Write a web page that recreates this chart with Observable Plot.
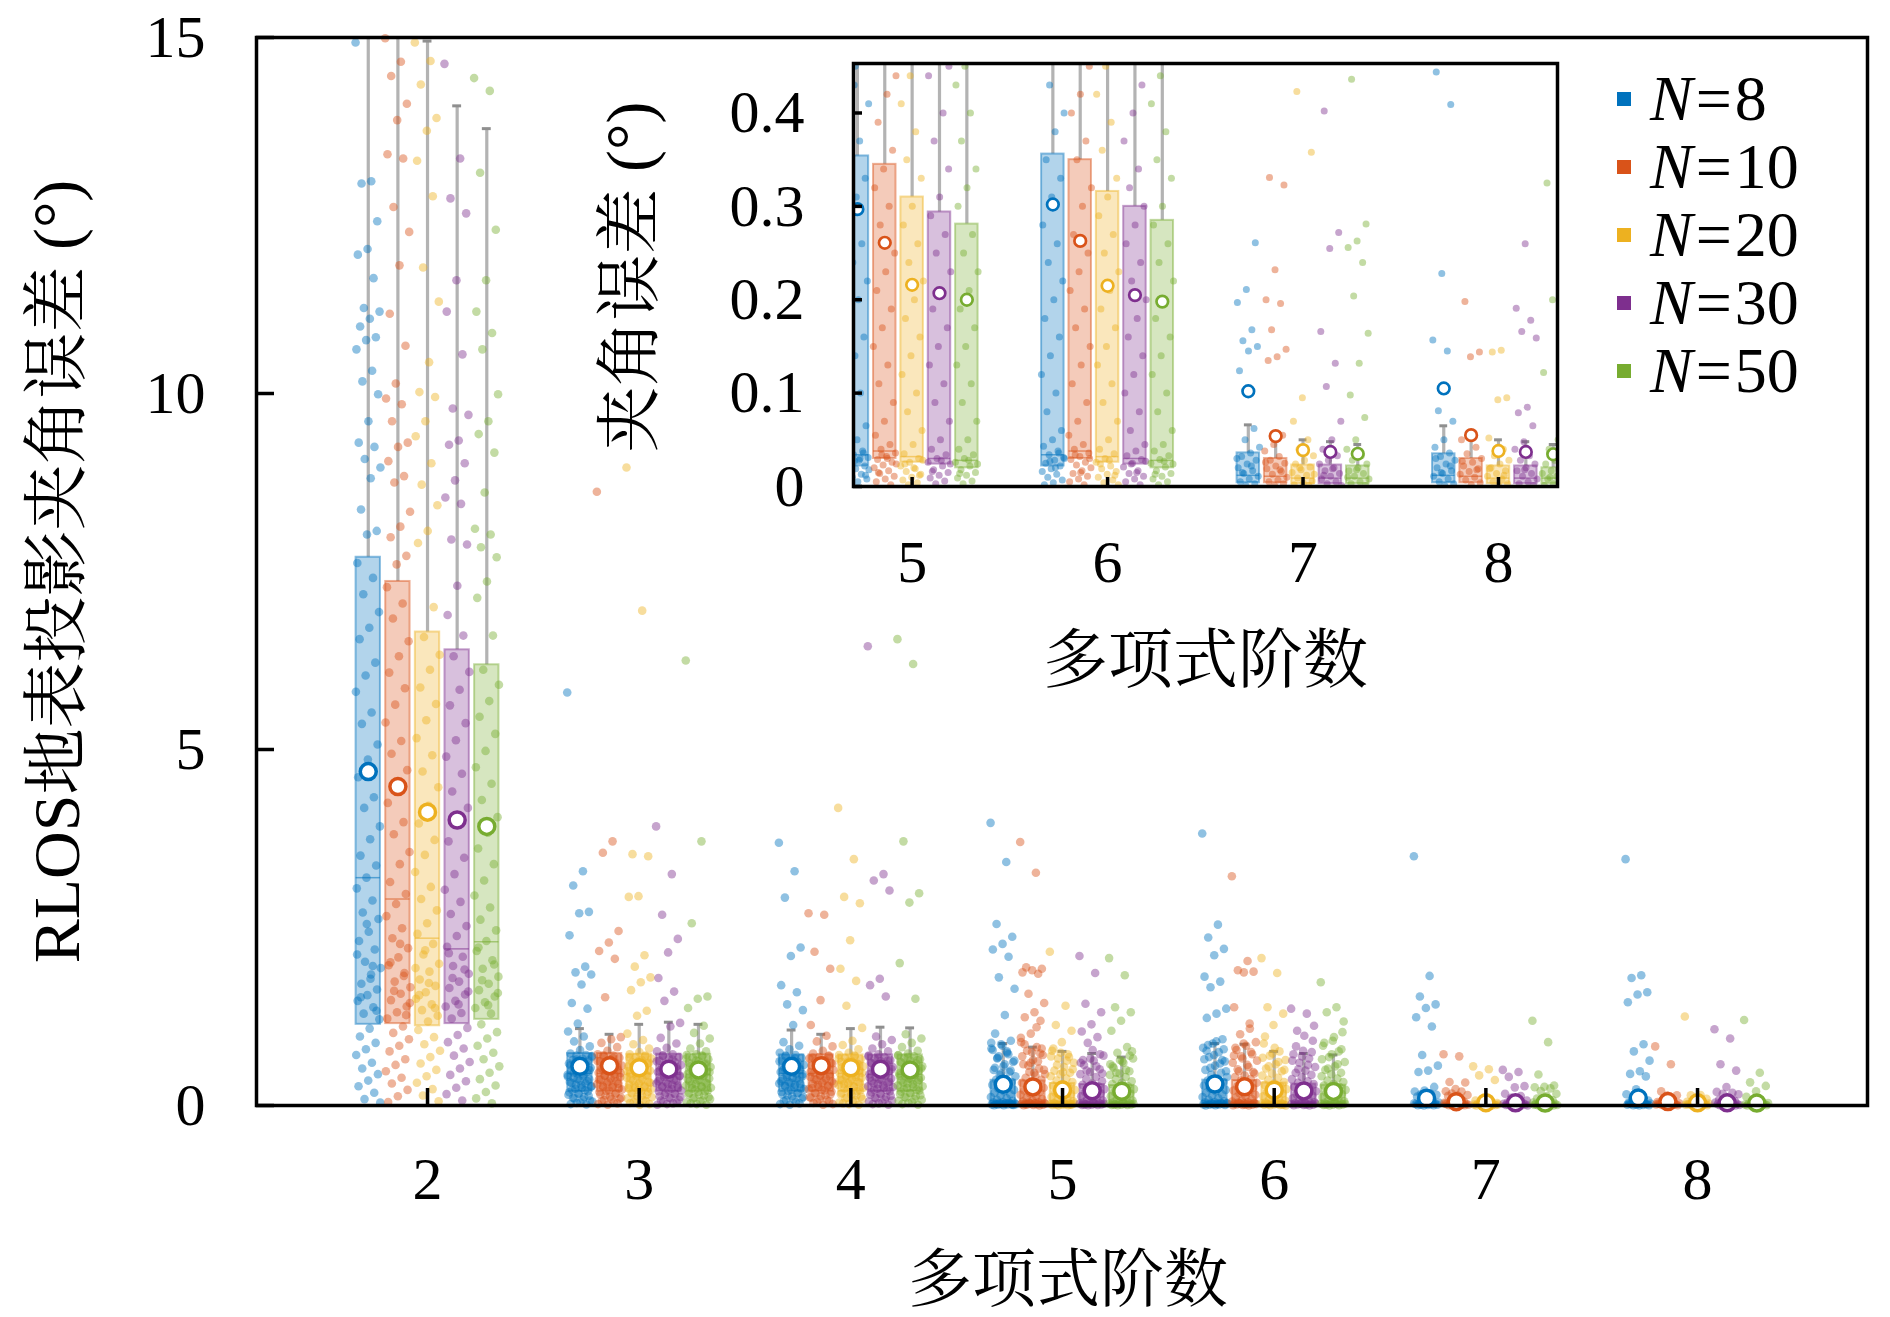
<!DOCTYPE html>
<html><head><meta charset="utf-8">
<script src="https://cdn.jsdelivr.net/npm/d3@7"></script>
<script src="https://cdn.jsdelivr.net/npm/@observablehq/plot@0.6"></script>
<style>
html,body{margin:0;padding:0;background:#fff;overflow:hidden;}
#wrap{position:relative;width:1890px;height:1317px;overflow:hidden;background:#fff;}
#wrap svg{position:absolute;left:0;top:0;}
.legend{position:absolute;left:1617px;top:65px;font-family:"Liberation Serif",serif;font-size:64px;color:#000;}
.legend .row{display:flex;align-items:center;height:68px;}
.legend .sw{width:14px;height:14px;margin-right:19px;flex:none;}
.legend i{font-style:italic;}
.legend .eq{margin:0 3px;}
</style></head>
<body><div id="wrap"></div>
<script>
const FONT = '"Liberation Serif", "Noto Serif CJK SC", "Noto Sans CJK SC", serif';
const nLabels = ["8", "10", "20", "30", "50"];
const colors = ["#0072BD", "#D95319", "#EDB120", "#7E2F8E", "#77AC30"];
const orders = [2, 3, 4, 5, 6, 7, 8];
const insetOrders = [5, 6, 7, 8];
const mainYTicks = [0, 5, 10, 15];
const insetYTicks = [0, 0.1, 0.2, 0.3, 0.4];
const offsets = [-0.28, -0.14, 0, 0.14, 0.28];
const boxWidth = 0.115;

// box statistics: rows = N (8,10,20,30,50), columns = order (2..8)
const q1 = [
  [1.14, 0.2, 0.2, 0.022, 0.022, 0.004, 0.004],
  [1.15, 0.2, 0.2, 0.03, 0.03, 0.004, 0.004],
  [1.12, 0.2, 0.2, 0.026, 0.026, 0.003, 0.003],
  [1.15, 0.2, 0.2, 0.024, 0.024, 0.003, 0.003],
  [1.21, 0.2, 0.2, 0.02, 0.02, 0.003, 0.003]
];
const median = [
  [3.2, 0.45, 0.45, 0.034, 0.034, 0.012, 0.012],
  [2.9, 0.45, 0.45, 0.038, 0.038, 0.011, 0.011],
  [2.35, 0.45, 0.45, 0.032, 0.032, 0.009, 0.009],
  [2.2, 0.44, 0.44, 0.03, 0.03, 0.009, 0.009],
  [2.3, 0.44, 0.44, 0.028, 0.028, 0.009, 0.009]
];
const q3 = [
  [7.7, 0.73, 0.71, 0.354, 0.356, 0.036, 0.035],
  [7.36, 0.73, 0.71, 0.345, 0.35, 0.03, 0.03],
  [6.65, 0.72, 0.71, 0.31, 0.316, 0.023, 0.022],
  [6.4, 0.72, 0.71, 0.294, 0.3, 0.023, 0.022],
  [6.19, 0.72, 0.71, 0.281, 0.285, 0.022, 0.02]
];
const whiskerHigh = [
  [16.5, 1.08, 1.06, 0.87, 0.87, 0.066, 0.065],
  [16.5, 1.0, 1.0, 0.82, 0.86, 0.058, 0.058],
  [14.95, 1.14, 1.08, 0.76, 0.76, 0.05, 0.05],
  [14.04, 1.17, 1.1, 0.73, 0.73, 0.048, 0.048],
  [13.72, 1.14, 1.09, 0.68, 0.71, 0.045, 0.045]
];
const means = [
  [4.69, 0.55, 0.55, 0.297, 0.302, 0.102, 0.105],
  [4.48, 0.56, 0.56, 0.261, 0.263, 0.054, 0.055],
  [4.12, 0.53, 0.53, 0.216, 0.215, 0.039, 0.038],
  [4.01, 0.51, 0.51, 0.207, 0.205, 0.037, 0.037],
  [3.92, 0.50, 0.50, 0.20, 0.198, 0.035, 0.0345]
];

// individual error samples (jittered points), per order, per N
const pts2 = [
  [14.93, 12.98, 12.95, 12.42, 12.03, 11.95, 11.62, 11.2, 11.15, 11.05, 10.94, 10.79, 10.75, 10.62, 10.32, 10.17, 9.99, 9.61, 9.31, 9.25, 9.08, 8.96, 8.81, 8.37, 8.07, 8.02,
   7.62, 7.41, 7.18, 6.93, 6.71, 6.55, 6.22, 6.04, 5.81, 5.52, 5.36, 5.07, 4.86, 4.61, 4.33, 4.18, 3.92, 3.74, 3.51, 3.37, 3.2, 3.05, 2.88, 2.71, 2.62, 2.44, 2.31, 2.19, 2.02, 1.93, 1.84, 1.71, 1.63, 1.55, 1.47, 1.38, 1.29, 1.21,
   1.08, 0.97, 0.88, 0.79, 0.71, 0.6, 0.52, 0.44, 0.35, 0.27, 0.18, 0.09, 0.04, 1.78, 1.52, 1.33, 2.55, 2.12, 1.96],
  [14.99, 14.66, 14.46, 14.07, 13.84, 13.36, 13.3, 12.62, 12.27, 11.8, 11.12, 10.67, 10.14, 9.93, 9.85, 9.61, 9.31, 9.25, 9.05, 8.84, 8.75, 8.34, 8.13, 7.98, 7.72, 7.6,
   7.28, 7.05, 6.84, 6.52, 6.31, 6.08, 5.86, 5.63, 5.38, 5.12, 4.94, 4.71, 4.43, 4.25, 3.98, 3.81, 3.56, 3.39, 3.14, 2.97, 2.83, 2.66, 2.49, 2.35, 2.21, 2.08, 1.97, 1.86, 1.74, 1.66, 1.57, 1.48, 1.39, 1.31, 1.22,
   1.11, 1.02, 0.93, 0.84, 0.76, 0.65, 0.57, 0.48, 0.39, 0.31, 0.22, 0.13, 0.05, 1.82, 1.61, 1.44, 2.27, 2.01, 1.27],
  [14.93, 14.67, 14.34, 13.87, 13.69, 13.27, 12.77, 11.77, 11.29, 10.44, 10.02, 9.95, 9.61, 9.4, 9.02, 8.72, 8.43, 8.07, 7.9, 7.0,
   6.58, 6.33, 6.12, 5.87, 5.64, 5.41, 5.16, 4.92, 4.69, 4.47, 4.21, 3.96, 3.73, 3.52, 3.28, 3.07, 2.9, 2.74, 2.56, 2.41, 2.27, 2.12, 1.99, 1.88, 1.77, 1.68, 1.59, 1.5, 1.42, 1.34, 1.26, 1.18,
   1.06, 0.96, 0.86, 0.77, 0.68, 0.59, 0.5, 0.41, 0.32, 0.23, 0.14, 0.06, 1.72, 1.55, 1.37, 2.18, 1.93],
  [14.63, 13.3, 12.74, 12.53, 11.59, 11.15, 10.55, 9.79, 9.7, 9.34, 9.28, 9.02, 8.78, 8.54, 8.45, 7.95, 7.88, 7.3, 6.89, 6.6,
   6.31, 6.09, 5.84, 5.62, 5.37, 5.13, 4.9, 4.66, 4.41, 4.18, 3.94, 3.71, 3.48, 3.25, 3.03, 2.86, 2.69, 2.52, 2.38, 2.23, 2.09, 1.96, 1.85, 1.74, 1.65, 1.56, 1.47, 1.39, 1.3, 1.22,
   1.09, 0.99, 0.89, 0.8, 0.7, 0.61, 0.52, 0.43, 0.34, 0.25, 0.16, 0.07, 1.79, 1.6, 1.42, 2.14, 1.91],
  [14.43, 14.25, 13.1, 12.3, 11.59, 11.15, 10.85, 10.62, 9.99, 9.61, 9.43, 9.17, 8.61, 8.1, 8.02, 7.84, 7.7, 7.36, 7.13, 6.6,
   6.12, 5.91, 5.68, 5.46, 5.22, 4.98, 4.75, 4.52, 4.29, 4.05, 3.83, 3.61, 3.39, 3.16, 2.95, 2.78, 2.61, 2.46, 2.31, 2.17, 2.04, 1.92, 1.81, 1.71, 1.62, 1.53, 1.45, 1.37, 1.29,
   1.14, 1.03, 0.94, 0.84, 0.74, 0.65, 0.55, 0.46, 0.37, 0.28, 0.19, 0.1, 0.03, 1.76, 1.58, 1.41, 2.22, 1.98]
];
const pts3 = [
  [5.8, 3.29, 3.09, 2.72, 2.7, 2.39, 1.95, 1.87, 1.84, 1.7, 1.44, 1.36, 1.15, 1.04, 0.97, 0.9, 0.83, 0.78, 0.73, 0.71, 0.7, 0.68, 0.66, 0.64, 0.63, 0.61, 0.59, 0.57, 0.55, 0.53, 0.51, 0.49, 0.47, 0.45, 0.43, 0.41, 0.39, 0.37, 0.35, 0.33, 0.31, 0.29, 0.27, 0.25, 0.22, 0.2, 0.17, 0.15, 0.12, 0.1, 0.07, 0.04, 0.02,
   0.015, 0.035, 0.055, 0.085, 0.105, 0.135, 0.165, 0.185, 0.215, 0.235, 0.265, 0.285, 0.315, 0.345, 0.375, 0.405, 0.435, 0.465, 0.495, 0.525, 0.565, 0.605, 0.645, 0.695],
  [8.62, 3.71, 3.55, 2.45, 2.29, 2.17, 2.06, 1.52, 0.96, 0.93, 0.88, 0.82, 0.77, 0.72, 0.7, 0.69, 0.67, 0.65, 0.62, 0.6, 0.58, 0.56, 0.54, 0.52, 0.5, 0.48, 0.46, 0.44, 0.42, 0.4, 0.38, 0.36, 0.34, 0.32, 0.3, 0.28, 0.26, 0.24, 0.21, 0.19, 0.16, 0.14, 0.11, 0.09, 0.06, 0.03, 0.01,
   0.02, 0.045, 0.075, 0.095, 0.125, 0.155, 0.175, 0.205, 0.225, 0.255, 0.275, 0.305, 0.335, 0.365, 0.395, 0.425, 0.455, 0.485, 0.515, 0.545, 0.585, 0.625, 0.665, 0.705],
  [8.96, 6.95, 3.53, 3.5, 2.94, 2.93, 2.11, 1.95, 1.8, 1.73, 1.62, 1.33, 1.26, 1.01, 0.92, 0.86, 0.8, 0.75, 0.72, 0.7, 0.68, 0.66, 0.64, 0.61, 0.59, 0.57, 0.55, 0.53, 0.51, 0.49, 0.47, 0.45, 0.43, 0.41, 0.39, 0.37, 0.35, 0.33, 0.31, 0.29, 0.27, 0.25, 0.23, 0.2, 0.18, 0.15, 0.13, 0.1, 0.08, 0.05, 0.02,
   0.01, 0.035, 0.065, 0.09, 0.115, 0.14, 0.165, 0.19, 0.215, 0.24, 0.26, 0.28, 0.32, 0.34, 0.38, 0.42, 0.44, 0.48, 0.52, 0.56, 0.6, 0.63, 0.67, 0.69],
  [3.92, 3.25, 2.68, 2.34, 2.15, 1.79, 1.6, 1.47, 1.16, 1.11, 0.95, 0.87, 0.81, 0.76, 0.72, 0.7, 0.68, 0.66, 0.63, 0.61, 0.59, 0.57, 0.55, 0.53, 0.51, 0.49, 0.47, 0.45, 0.43, 0.41, 0.39, 0.37, 0.35, 0.33, 0.31, 0.29, 0.27, 0.25, 0.22, 0.2, 0.17, 0.15, 0.12, 0.1, 0.07, 0.04, 0.02,
   0.01, 0.03, 0.055, 0.08, 0.11, 0.13, 0.16, 0.18, 0.21, 0.235, 0.26, 0.28, 0.3, 0.34, 0.36, 0.4, 0.42, 0.46, 0.5, 0.54, 0.58, 0.62, 0.65, 0.7],
  [6.25, 3.71, 2.56, 1.53, 1.5, 1.37, 1.12, 1.02, 0.94, 0.87, 0.8, 0.76, 0.72, 0.71, 0.69, 0.67, 0.65, 0.62, 0.6, 0.58, 0.56, 0.54, 0.52, 0.5, 0.48, 0.46, 0.44, 0.42, 0.4, 0.38, 0.36, 0.34, 0.32, 0.3, 0.28, 0.26, 0.24, 0.21, 0.19, 0.16, 0.14, 0.11, 0.09, 0.06, 0.03, 0.01,
   0.02, 0.045, 0.07, 0.1, 0.12, 0.15, 0.175, 0.2, 0.225, 0.25, 0.27, 0.29, 0.31, 0.35, 0.37, 0.41, 0.43, 0.47, 0.51, 0.55, 0.59, 0.63, 0.66, 0.7]
];
const pts4 = [
  [3.69, 3.29, 2.92, 2.22, 2.1, 1.69, 1.59, 1.42, 1.34, 1.13, 0.89, 0.84, 0.79, 0.74, 0.71, 0.69, 0.67, 0.65, 0.63, 0.61, 0.59, 0.57, 0.55, 0.53, 0.51, 0.49, 0.47, 0.45, 0.43, 0.41, 0.39, 0.37, 0.35, 0.33, 0.31, 0.29, 0.27, 0.24, 0.22, 0.19, 0.17, 0.14, 0.12, 0.09, 0.06, 0.03, 0.01,
   0.02, 0.045, 0.075, 0.1, 0.13, 0.155, 0.18, 0.205, 0.23, 0.255, 0.28, 0.3, 0.32, 0.34, 0.38, 0.4, 0.44, 0.46, 0.5, 0.54, 0.58, 0.62, 0.66, 0.7],
  [2.7, 2.68, 2.16, 1.92, 1.48, 1.13, 0.98, 0.9, 0.83, 0.77, 0.73, 0.7, 0.68, 0.66, 0.64, 0.62, 0.6, 0.58, 0.56, 0.54, 0.52, 0.5, 0.48, 0.46, 0.44, 0.42, 0.4, 0.38, 0.36, 0.34, 0.32, 0.3, 0.28, 0.26, 0.23, 0.21, 0.18, 0.16, 0.13, 0.11, 0.08, 0.05, 0.02,
   0.01, 0.035, 0.06, 0.09, 0.115, 0.145, 0.17, 0.195, 0.22, 0.245, 0.27, 0.29, 0.31, 0.35, 0.37, 0.41, 0.43, 0.47, 0.51, 0.55, 0.59, 0.63, 0.67, 0.69],
  [4.18, 3.46, 2.93, 2.84, 2.32, 1.92, 1.75, 1.4, 1.09, 0.91, 0.85, 0.79, 0.74, 0.71, 0.69, 0.67, 0.65, 0.63, 0.61, 0.59, 0.57, 0.55, 0.53, 0.51, 0.49, 0.47, 0.45, 0.43, 0.41, 0.39, 0.37, 0.35, 0.33, 0.31, 0.29, 0.26, 0.24, 0.21, 0.19, 0.16, 0.14, 0.11, 0.09, 0.06, 0.03, 0.01,
   0.02, 0.04, 0.075, 0.1, 0.125, 0.15, 0.175, 0.2, 0.225, 0.25, 0.27, 0.3, 0.32, 0.34, 0.36, 0.4, 0.42, 0.46, 0.5, 0.54, 0.58, 0.62, 0.66, 0.7],
  [6.45, 3.25, 3.16, 3.02, 1.78, 1.69, 1.53, 0.97, 0.92, 0.86, 0.8, 0.76, 0.72, 0.7, 0.68, 0.66, 0.64, 0.62, 0.6, 0.58, 0.56, 0.54, 0.52, 0.5, 0.48, 0.46, 0.44, 0.42, 0.4, 0.38, 0.36, 0.34, 0.32, 0.3, 0.27, 0.25, 0.22, 0.2, 0.17, 0.15, 0.12, 0.1, 0.07, 0.04, 0.02,
   0.01, 0.03, 0.055, 0.085, 0.11, 0.135, 0.16, 0.185, 0.21, 0.235, 0.26, 0.28, 0.31, 0.33, 0.37, 0.39, 0.43, 0.47, 0.51, 0.55, 0.59, 0.63, 0.67, 0.69],
  [6.55, 6.2, 3.71, 2.98, 2.85, 2.0, 1.5, 1.0, 0.94, 0.88, 0.82, 0.77, 0.73, 0.71, 0.69, 0.67, 0.65, 0.63, 0.61, 0.59, 0.57, 0.55, 0.53, 0.51, 0.49, 0.47, 0.45, 0.43, 0.41, 0.39, 0.37, 0.35, 0.33, 0.31, 0.28, 0.26, 0.23, 0.21, 0.18, 0.16, 0.13, 0.11, 0.08, 0.05, 0.02,
   0.01, 0.035, 0.065, 0.09, 0.12, 0.145, 0.17, 0.195, 0.22, 0.245, 0.27, 0.3, 0.32, 0.36, 0.38, 0.42, 0.44, 0.48, 0.52, 0.56, 0.6, 0.64, 0.68, 0.7]
];
const pts5 = [
  [3.97, 3.42, 2.55, 2.37, 2.27, 2.19, 2.09, 1.8, 1.64, 1.27, 1.01, 0.91, 0.86, 0.8, 0.74, 0.67, 0.61, 0.55, 0.5, 0.47, 0.43, 0.41, 0.37, 0.36, 0.33, 0.31, 0.29, 0.26, 0.24, 0.22, 0.2, 0.18, 0.16, 0.14, 0.12, 0.1, 0.08, 0.065, 0.05, 0.042, 0.038, 0.034, 0.031, 0.028, 0.025, 0.022, 0.019, 0.016, 0.013, 0.01, 0.008, 0.005, 0.003, 0.036, 0.027, 0.018, 0.03, 0.021, 0.012,
   0.84, 0.78, 0.72, 0.69, 0.63, 0.58, 0.53, 0.49, 0.45, 0.88, 0.76, 0.66],
  [3.7, 3.27, 1.94, 1.92, 1.9, 1.87, 1.85, 1.57, 1.44, 1.31, 1.24, 1.19, 1.01, 0.89, 0.82, 0.77, 0.71, 0.64, 0.58, 0.52, 0.47, 0.44, 0.42, 0.39, 0.36, 0.34, 0.32, 0.3, 0.28, 0.25, 0.23, 0.21, 0.19, 0.17, 0.15, 0.13, 0.11, 0.09, 0.07, 0.055, 0.045, 0.04, 0.036, 0.032, 0.029, 0.026, 0.023, 0.02, 0.017, 0.014, 0.011, 0.008, 0.005, 0.002, 0.034, 0.024, 0.03, 0.015,
   0.8, 0.75, 0.69, 0.62, 0.56, 0.5, 0.46, 0.86, 0.73, 0.6, 0.95, 1.1],
  [2.16, 1.4, 1.13, 1.05, 0.89, 0.77, 0.72, 0.66, 0.6, 0.54, 0.49, 0.46, 0.44, 0.41, 0.38, 0.35, 0.33, 0.3, 0.28, 0.26, 0.24, 0.22, 0.2, 0.18, 0.16, 0.14, 0.12, 0.1, 0.08, 0.06, 0.045, 0.035, 0.03, 0.026, 0.022, 0.019, 0.016, 0.013, 0.01, 0.007, 0.004, 0.002, 0.028, 0.02, 0.024, 0.012,
   0.74, 0.69, 0.63, 0.57, 0.51, 0.47, 0.8, 0.68],
  [2.1, 1.86, 1.43, 1.31, 1.14, 1.04, 0.96, 0.88, 0.7, 0.63, 0.57, 0.51, 0.47, 0.44, 0.4, 0.37, 0.34, 0.31, 0.29, 0.27, 0.25, 0.23, 0.21, 0.19, 0.17, 0.15, 0.13, 0.11, 0.09, 0.07, 0.05, 0.04, 0.034, 0.03, 0.026, 0.022, 0.018, 0.015, 0.012, 0.009, 0.006, 0.003, 0.024, 0.028, 0.016,
   0.72, 0.66, 0.6, 0.55, 0.49, 0.45, 0.78, 0.64],
  [2.07, 1.83, 1.38, 1.31, 1.19, 1.05, 0.82, 0.74, 0.66, 0.6, 0.53, 0.48, 0.45, 0.43, 0.4, 0.37, 0.34, 0.32, 0.3, 0.27, 0.25, 0.23, 0.21, 0.19, 0.17, 0.15, 0.13, 0.11, 0.09, 0.07, 0.05, 0.04, 0.034, 0.03, 0.026, 0.022, 0.018, 0.015, 0.012, 0.009, 0.006, 0.003, 0.024, 0.028, 0.014,
   0.7, 0.64, 0.58, 0.5, 0.46, 0.76, 0.62, 0.55]
];
const pts6 = [
  [3.82, 2.54, 2.36, 2.2, 2.11, 1.81, 1.74, 1.66, 1.36, 1.29, 1.23, 0.93, 0.87, 0.81, 0.75, 0.68, 0.62, 0.56, 0.5, 0.46, 0.43, 0.4, 0.38, 0.35, 0.33, 0.31, 0.28, 0.26, 0.24, 0.22, 0.2, 0.18, 0.16, 0.14, 0.12, 0.1, 0.08, 0.06, 0.05, 0.043, 0.038, 0.034, 0.031, 0.028, 0.025, 0.022, 0.019, 0.016, 0.013, 0.01, 0.007, 0.004, 0.002, 0.036, 0.027, 0.03, 0.02,
   0.85, 0.79, 0.71, 0.65, 0.59, 0.53, 0.48, 0.9, 0.77, 0.64],
  [3.22, 2.03, 1.9, 1.88, 1.87, 1.38, 1.08, 1.0, 0.89, 0.84, 0.78, 0.72, 0.66, 0.6, 0.54, 0.48, 0.45, 0.42, 0.4, 0.37, 0.35, 0.32, 0.3, 0.27, 0.25, 0.23, 0.21, 0.19, 0.17, 0.15, 0.13, 0.11, 0.09, 0.07, 0.055, 0.045, 0.04, 0.036, 0.032, 0.029, 0.026, 0.023, 0.02, 0.017, 0.014, 0.011, 0.008, 0.005, 0.002, 0.034, 0.03, 0.015,
   0.81, 0.75, 0.69, 0.63, 0.57, 0.51, 0.47, 0.87, 0.7, 1.15],
  [2.07, 1.86, 1.38, 1.29, 1.13, 0.87, 0.76, 0.7, 0.64, 0.58, 0.52, 0.48, 0.45, 0.42, 0.39, 0.36, 0.33, 0.31, 0.29, 0.27, 0.25, 0.23, 0.21, 0.19, 0.17, 0.15, 0.13, 0.11, 0.09, 0.07, 0.05, 0.04, 0.035, 0.03, 0.026, 0.022, 0.019, 0.016, 0.013, 0.01, 0.007, 0.004, 0.002, 0.028, 0.024, 0.012,
   0.73, 0.67, 0.61, 0.55, 0.5, 0.81, 0.97],
  [1.36, 1.29, 1.05, 0.91, 0.77, 0.72, 0.66, 0.6, 0.54, 0.49, 0.46, 0.43, 0.4, 0.37, 0.34, 0.32, 0.3, 0.28, 0.26, 0.24, 0.22, 0.2, 0.18, 0.16, 0.14, 0.12, 0.1, 0.08, 0.06, 0.045, 0.038, 0.033, 0.029, 0.025, 0.021, 0.017, 0.014, 0.011, 0.008, 0.005, 0.002, 0.024, 0.027, 0.015,
   0.83, 0.75, 0.69, 0.63, 0.57, 0.51, 1.12, 0.98],
  [1.73, 1.38, 1.31, 1.03, 0.91, 0.84, 0.76, 0.68, 0.61, 0.55, 0.5, 0.46, 0.44, 0.41, 0.38, 0.35, 0.33, 0.3, 0.28, 0.26, 0.24, 0.22, 0.2, 0.18, 0.16, 0.14, 0.12, 0.1, 0.08, 0.06, 0.045, 0.038, 0.033, 0.029, 0.025, 0.021, 0.017, 0.014, 0.011, 0.008, 0.005, 0.002, 0.024, 0.027, 0.013,
   0.79, 0.72, 0.65, 0.58, 0.52, 1.18, 0.96, 0.88]
];
const pts7 = [
  [3.5, 1.82, 1.53, 1.42, 1.37, 1.24, 1.11, 0.71, 0.56, 0.49, 0.47, 0.261, 0.211, 0.197, 0.168, 0.156, 0.15, 0.145, 0.124, 0.062, 0.05, 0.042, 0.036, 0.032, 0.028, 0.024, 0.02, 0.017, 0.014, 0.011, 0.008, 0.005, 0.003, 0.001, 0.03, 0.022, 0.015],
  [0.72, 0.69, 0.331, 0.323, 0.232, 0.2, 0.196, 0.168, 0.147, 0.139, 0.135, 0.055, 0.045, 0.038, 0.032, 0.028, 0.025, 0.022, 0.019, 0.016, 0.013, 0.01, 0.007, 0.005, 0.003, 0.001, 0.026, 0.018],
  [0.55, 0.51, 0.423, 0.358, 0.095, 0.07, 0.05, 0.04, 0.033, 0.028, 0.024, 0.021, 0.018, 0.015, 0.012, 0.009, 0.006, 0.004, 0.002, 0.001, 0.02, 0.013],
  [0.5, 0.47, 0.402, 0.272, 0.255, 0.166, 0.132, 0.107, 0.07, 0.05, 0.04, 0.033, 0.028, 0.024, 0.02, 0.017, 0.014, 0.011, 0.008, 0.005, 0.003, 0.001, 0.019, 0.012],
  [1.19, 0.89, 0.436, 0.281, 0.263, 0.256, 0.24, 0.204, 0.164, 0.132, 0.098, 0.074, 0.05, 0.04, 0.033, 0.028, 0.024, 0.02, 0.017, 0.014, 0.011, 0.008, 0.005, 0.003, 0.001, 0.018, 0.01]
];
const pts8 = [
  [3.46, 1.83, 1.79, 1.59, 1.56, 1.45, 0.86, 0.76, 0.63, 0.48, 0.444, 0.409, 0.228, 0.157, 0.145, 0.081, 0.07, 0.05, 0.042, 0.036, 0.032, 0.028, 0.024, 0.02, 0.017, 0.014, 0.011, 0.008, 0.005, 0.003, 0.001, 0.03, 0.022, 0.015],
  [0.83, 0.58, 0.198, 0.144, 0.139, 0.05, 0.042, 0.035, 0.03, 0.026, 0.022, 0.019, 0.016, 0.013, 0.01, 0.007, 0.004, 0.002, 0.027, 0.018],
  [1.25, 0.146, 0.144, 0.095, 0.093, 0.052, 0.04, 0.033, 0.028, 0.024, 0.02, 0.017, 0.014, 0.011, 0.008, 0.005, 0.003, 0.001, 0.019, 0.012],
  [1.07, 0.94, 0.58, 0.49, 0.26, 0.191, 0.178, 0.166, 0.159, 0.085, 0.079, 0.065, 0.048, 0.04, 0.033, 0.028, 0.024, 0.02, 0.017, 0.014, 0.011, 0.008, 0.005, 0.003, 0.001, 0.018],
  [1.2, 0.46, 0.325, 0.275, 0.2, 0.122, 0.05, 0.04, 0.033, 0.028, 0.024, 0.02, 0.017, 0.014, 0.011, 0.008, 0.005, 0.003, 0.001, 0.018, 0.01]
];

// ---- tables built from the arrays above ----
const boxes = [];
nLabels.forEach((n, i) => orders.forEach((o, j) => boxes.push({
  order: o, i, n, q1: q1[i][j], med: median[i][j], q3: q3[i][j], whi: whiskerHigh[i][j], mean: means[i][j]
})));
const points = [];
[pts2, pts3, pts4, pts5, pts6, pts7, pts8].forEach((grp, j) =>
  grp.forEach((vals, i) => vals.forEach((v, k) => points.push({order: orders[j], i, n: nLabels[i], v, k}))));

const pos = d => d.order + offsets[d.i];
const jit = d => (((d.k * 0.6180339887) % 1) - 0.5) * 0.12;

function dataMarks(sel, o) {
  const B = boxes.filter(d => sel.includes(d.order));
  const P = points.filter(d => sel.includes(d.order));
  return [
    Plot.ruleX(B, {x: pos, y1: "q3", y2: "whi", stroke: "#b3b3b3", strokeWidth: 3.2, clip: true}),
    Plot.ruleY(B, {y: "whi", x1: d => pos(d) - o.cap, x2: d => pos(d) + o.cap, stroke: "#8f8f8f", strokeWidth: 3, clip: true}),
    Plot.rect(B, {x1: d => pos(d) - boxWidth / 2, x2: d => pos(d) + boxWidth / 2, y1: "q1", y2: "q3",
      fill: "n", fillOpacity: 0.3, stroke: "n", strokeOpacity: 0.45, strokeWidth: 2, clip: true}),
    Plot.dot(P, {x: d => pos(d) + jit(d), y: "v", r: o.r, fill: "n", fillOpacity: 0.44, clip: o.clip}),
    Plot.ruleY(B, {y: "med", x1: d => pos(d) - boxWidth / 2, x2: d => pos(d) + boxWidth / 2, stroke: "n", strokeOpacity: 0.55, strokeWidth: 1.5, clip: true}),
    Plot.dot(B, {x: pos, y: "mean", r: o.meanR, fill: "white", stroke: "n", strokeWidth: o.meanW, clip: o.clip})
  ];
}

const wrap = document.getElementById("wrap");

const mainPlot = Plot.plot({
  width: 1890, height: 1317,
  marginLeft: 256, marginRight: 23, marginTop: 37, marginBottom: 212,
  x: {domain: [1.192, 8.803]},
  y: {domain: [0, 15]},
  color: {domain: nLabels, range: colors},
  style: {background: "transparent", fontFamily: FONT, overflow: "visible"},
  marks: [
    ...dataMarks(orders, {cap: 0.021, r: 4.3, meanR: 8, meanW: 3.5, clip: false}),
    Plot.frame({stroke: "black", strokeWidth: 3.5}),
    Plot.axisY({ticks: mainYTicks, tickSize: 18, dx: 18, tickFormat: () => "", strokeWidth: 3.5, label: null}),
    Plot.axisY({ticks: mainYTicks, tickSize: 0, tickPadding: 51, fontSize: 60, tickFormat: d => String(d), label: null}),
    Plot.axisX({ticks: orders, tickSize: 17, dy: -17, tickFormat: () => "", strokeWidth: 3.5, label: null}),
    Plot.axisX({ticks: orders, tickSize: 0, tickPadding: 51, fontSize: 60, tickFormat: d => String(d), label: null}),
    Plot.text(["RLOS地表投影夹角误差 (°)"], {text: d => d, frameAnchor: "left", textAnchor: "middle", dx: -199, rotate: -90, fontSize: 66, fontFamily: FONT, lineAnchor: "middle"}),
    Plot.text(["多项式阶数"], {text: d => d, frameAnchor: "bottom", textAnchor: "middle", dx: 6, dy: 175, fontSize: 64, fontFamily: FONT, lineAnchor: "middle"})
  ]
});
wrap.appendChild(mainPlot);

const insetPlot = Plot.plot({
  width: 1890, height: 1317,
  marginLeft: 853, marginRight: 333, marginTop: 63, marginBottom: 831,
  x: {domain: [4.7, 8.302]},
  y: {domain: [0, 0.453]},
  color: {domain: nLabels, range: colors},
  style: {background: "transparent", fontFamily: FONT, overflow: "visible"},
  marks: [
    Plot.frame({fill: "white", stroke: "none"}),
    ...dataMarks(insetOrders, {cap: 0.02, r: 3.5, meanR: 5.8, meanW: 2.7, clip: true}),
    Plot.frame({stroke: "black", strokeWidth: 3.5}),
    Plot.axisY({ticks: insetYTicks, tickSize: 9, dx: 9, tickFormat: () => "", strokeWidth: 3.5, label: null}),
    Plot.axisY({ticks: insetYTicks, tickSize: 0, tickPadding: 49, fontSize: 60, tickFormat: d => String(d), label: null}),
    Plot.axisX({ticks: insetOrders, tickSize: 9, dy: -9, tickFormat: () => "", strokeWidth: 3.5, label: null}),
    Plot.axisX({ticks: insetOrders, tickSize: 0, tickPadding: 53, fontSize: 60, tickFormat: d => String(d), label: null}),
    Plot.text(["夹角误差 (°)"], {text: d => d, frameAnchor: "left", textAnchor: "middle", dx: -223, dy: 2, rotate: -90, fontSize: 66, fontFamily: FONT, lineAnchor: "middle"}),
    Plot.text(["多项式阶数"], {text: d => d, frameAnchor: "bottom", textAnchor: "middle", dy: 175, fontSize: 65, fontFamily: FONT, lineAnchor: "middle"})
  ]
});
wrap.appendChild(insetPlot);

// legend
const legend = document.createElement("div");
legend.className = "legend";
nLabels.forEach((n, i) => {
  const row = document.createElement("div");
  row.className = "row";
  const sw = document.createElement("span");
  sw.className = "sw";
  sw.style.background = colors[i];
  const t = document.createElement("span");
  t.innerHTML = '<i>N</i><span class="eq">=</span>' + n;
  row.appendChild(sw);
  row.appendChild(t);
  legend.appendChild(row);
});
wrap.appendChild(legend);
</script></body></html>
